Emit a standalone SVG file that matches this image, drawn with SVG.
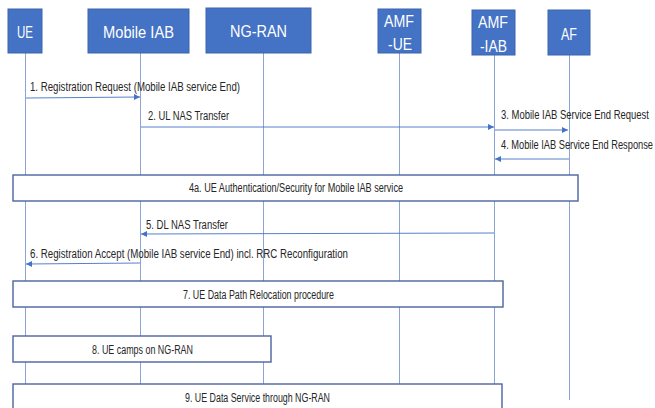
<svg xmlns="http://www.w3.org/2000/svg" width="655" height="408" viewBox="0 0 655 408">
<style>
.hdr{fill:#4472C4;stroke:#3b64ad;stroke-width:1}
.ht{fill:#fff;font-family:"Liberation Sans",Arial,sans-serif;font-size:17px}
.life{stroke:#7f9bd0;stroke-width:0.9;fill:none}
.msg{stroke:#4472C4;stroke-width:0.9;fill:none;marker-end:url(#ah)}
.mt{fill:#262626;font-family:"Liberation Sans",Arial,sans-serif;font-size:12px}
.box{fill:#fff;stroke:#4a64a0;stroke-width:1.4}
</style>
<defs>
<marker id="ah" markerUnits="userSpaceOnUse" markerWidth="7" markerHeight="7" refX="6" refY="3.5" orient="auto">
<path d="M0,0.5 L6,3.5 L0,6.5 Z" fill="#4472C4"/>
</marker>
</defs>
<rect width="655" height="408" fill="#fff"/>
<g id="lifelines">
<line class="life" x1="25.5" y1="53" x2="25.5" y2="408"/>
<line class="life" x1="140.5" y1="53" x2="140.5" y2="408"/>
<line class="life" x1="263.5" y1="53" x2="263.5" y2="408"/>
<line class="life" x1="399.5" y1="53" x2="399.5" y2="408"/>
<line class="life" x1="494.5" y1="55" x2="494.5" y2="408"/>
<line class="life" x1="569.5" y1="55" x2="569.5" y2="400"/>
</g>
<g id="n-ue"><rect class="hdr" x="8" y="9" width="34" height="44"/><text class="ht" x="25" y="38" text-anchor="middle" textLength="16" lengthAdjust="spacingAndGlyphs">UE</text></g>
<g id="n-miab"><rect class="hdr" x="88" y="9" width="101" height="44"/><text class="ht" x="138.5" y="38" text-anchor="middle" textLength="71" lengthAdjust="spacingAndGlyphs">Mobile IAB</text></g>
<g id="n-ngran"><rect class="hdr" x="206" y="8" width="105" height="45"/><text class="ht" x="258.5" y="37" text-anchor="middle" textLength="57" lengthAdjust="spacingAndGlyphs">NG-RAN</text></g>
<g id="n-amfue"><rect class="hdr" x="378" y="9" width="43" height="44"/><text class="ht" x="399" y="27" text-anchor="middle" textLength="30" lengthAdjust="spacingAndGlyphs">AMF</text><text class="ht" x="400" y="50" text-anchor="middle" textLength="24" lengthAdjust="spacingAndGlyphs">-UE</text></g>
<g id="n-amfiab"><rect class="hdr" x="472" y="10" width="43" height="45"/><text class="ht" x="493" y="28" text-anchor="middle" textLength="30" lengthAdjust="spacingAndGlyphs">AMF</text><text class="ht" x="493.5" y="52" text-anchor="middle" textLength="27" lengthAdjust="spacingAndGlyphs">-IAB</text></g>
<g id="n-af"><rect class="hdr" x="548" y="10" width="42" height="45"/><text class="ht" x="569" y="40" text-anchor="middle" textLength="16" lengthAdjust="spacingAndGlyphs">AF</text></g>
<g id="connectors">
<line class="msg" x1="26" y1="98" x2="140" y2="97"/>
<line class="msg" x1="141" y1="127" x2="494" y2="127"/>
<line class="msg" x1="495" y1="130" x2="568" y2="130"/>
<line class="msg" x1="569" y1="159" x2="495" y2="159"/>
<line class="msg" x1="494" y1="233" x2="141" y2="234"/>
<line class="msg" x1="140" y1="263" x2="26" y2="264"/>
</g>
<g id="labels">
<text class="mt" x="30" y="91" textLength="210" lengthAdjust="spacingAndGlyphs">1. Registration Request (Mobile IAB service End)</text>
<text class="mt" x="148" y="120" textLength="81" lengthAdjust="spacingAndGlyphs">2. UL NAS Transfer</text>
<text class="mt" transform="translate(501,119) scale(0.8,1)" x="0" y="0" textLength="185" lengthAdjust="spacingAndGlyphs">3. Mobile IAB Service End Request</text>
<text class="mt" transform="translate(501,149) scale(0.76,1)" x="0" y="0" textLength="200" lengthAdjust="spacingAndGlyphs">4. Mobile IAB Service End Response</text>
<text class="mt" x="146" y="229" textLength="82" lengthAdjust="spacingAndGlyphs">5. DL NAS Transfer</text>
<text class="mt" x="30" y="258" textLength="318" lengthAdjust="spacingAndGlyphs">6. Registration Accept (Mobile IAB service End) incl. RRC Reconfiguration</text>
</g>
<g id="n-4a"><rect class="box" x="13" y="175" width="565" height="26"/><text class="mt" x="189" y="192" textLength="214" lengthAdjust="spacingAndGlyphs">4a. UE Authentication/Security for Mobile IAB service</text></g>
<g id="n-7"><rect class="box" x="13" y="281" width="490" height="26"/><text class="mt" x="183" y="299" textLength="151" lengthAdjust="spacingAndGlyphs">7. UE Data Path Relocation procedure</text></g>
<g id="n-8"><rect class="box" x="13" y="336" width="258" height="26"/><text class="mt" x="92" y="354" textLength="101" lengthAdjust="spacingAndGlyphs">8. UE camps on NG-RAN</text></g>
<g id="n-9"><rect class="box" x="13" y="384" width="489" height="30"/><text class="mt" x="185" y="402" textLength="145" lengthAdjust="spacingAndGlyphs">9. UE Data Service through NG-RAN</text></g>
</svg>
